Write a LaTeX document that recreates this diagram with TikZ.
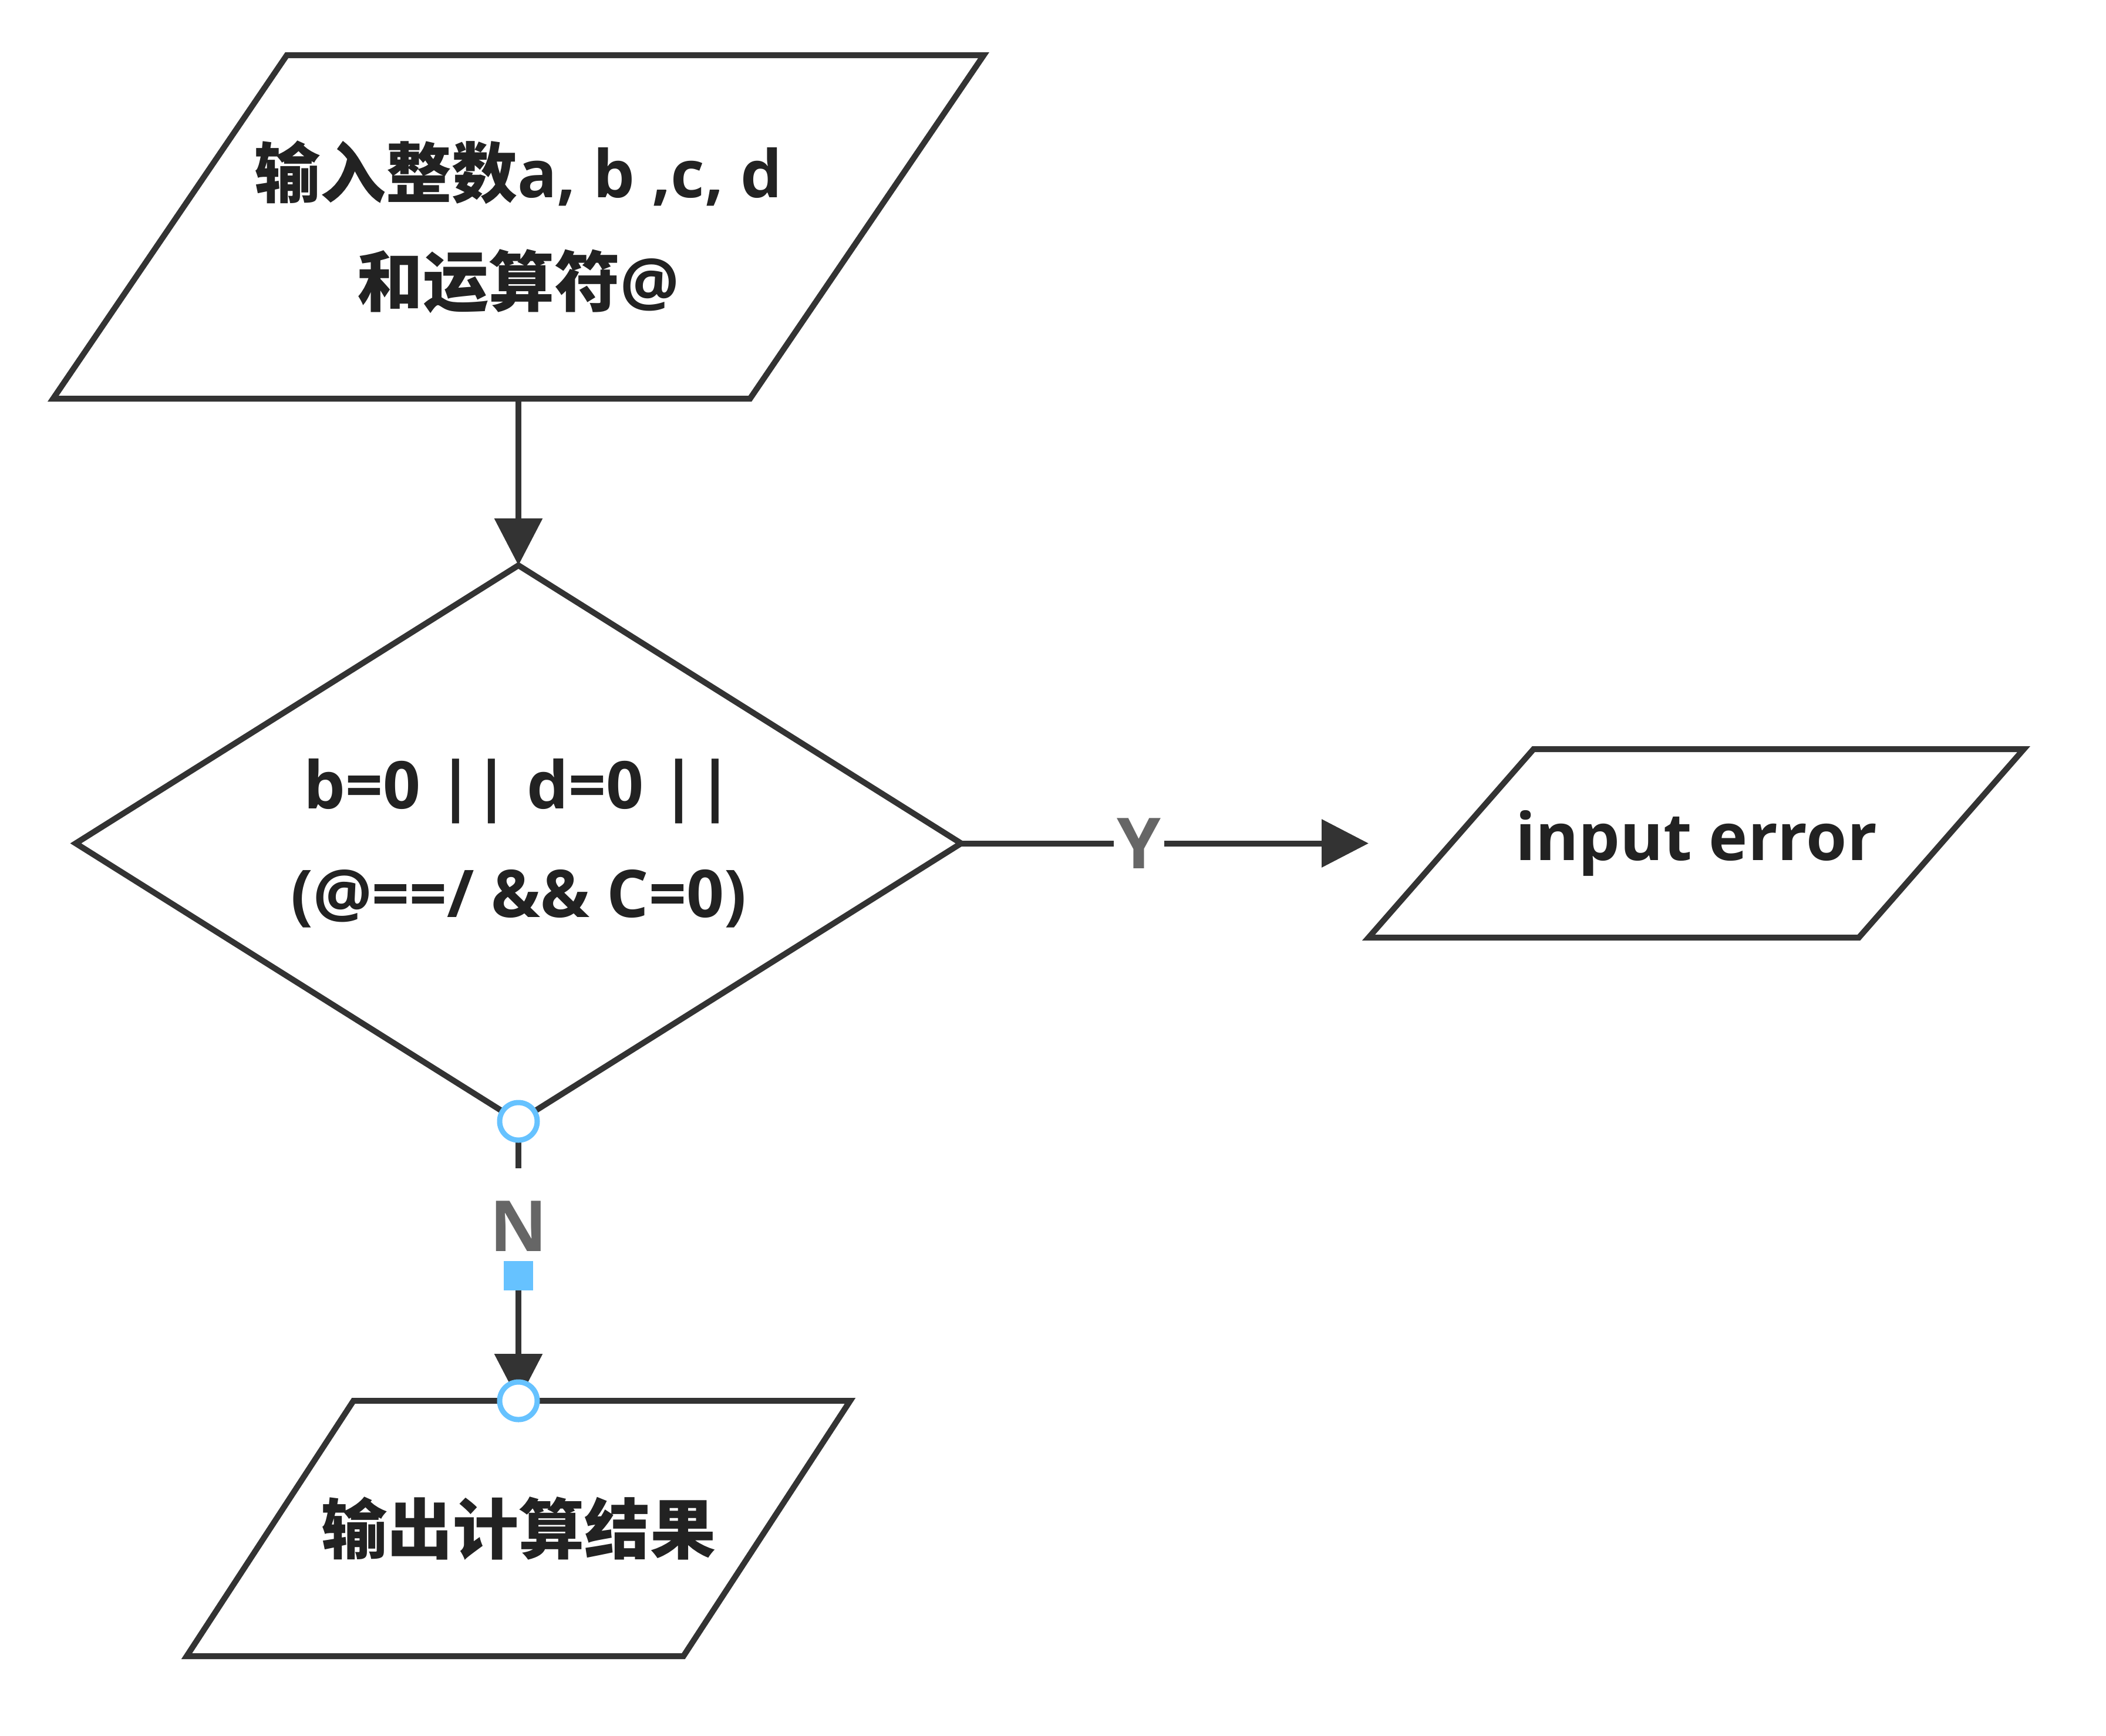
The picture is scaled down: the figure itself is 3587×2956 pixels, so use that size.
\documentclass[tikz,border=0pt]{standalone}
\usepackage{fontspec}
\setmainfont{Open Sans}
\newfontfamily\cjk{Noto Sans CJK SC Bold}
\usetikzlibrary{shapes.geometric,arrows.meta}
\definecolor{lncol}{HTML}{333333}
\definecolor{txcol}{HTML}{222222}
\definecolor{lbcol}{HTML}{666666}
\definecolor{blcol}{HTML}{66C2FF}
\begin{document}
\begin{tikzpicture}[x=1pt,y=-1pt,
  shapeline/.style={draw=lncol, line width=10pt, line join=miter, fill=white},
  txt/.style={text=txcol, font=\fontsize{112}{185}\selectfont\bfseries, align=center, inner sep=0pt, outer sep=0pt},
  conn/.style={draw=lncol, line width=10pt, -{Triangle[length=80pt,width=80pt]}},
  lbl/.style={fill=white, text=lbcol, font=\fontsize{120}{120}\selectfont\bfseries, inner sep=0pt, inner xsep=6pt},
  port/.style={circle, draw=blcol, line width=9pt, fill=white, minimum size=64pt, inner sep=0pt},
  handle/.style={rectangle, fill=blcol, minimum size=50pt, inner sep=0pt}]
\useasboundingbox (0,0) rectangle (3587,2956);

% input box
\node[txt, minimum width=1585pt, minimum height=585pt] (in) at (883,386.5) {};
\draw[shapeline] ([xshift=398pt]in.north west) -- (in.north east) -- ([xshift=-398pt]in.south east) -- (in.south west) -- cycle;
\node[txt] (intext) at (in.center) {{\cjk 输入整数}a, b ,c, d\\{\cjk 和运算符}@};

% decision
\node[txt, diamond, aspect=1.6, draw=lncol, line width=10pt, fill=white, minimum width=1508pt, minimum height=947pt] (dec) at (883,1436.5) {b=0 || d=0 ||\\(@==/ \&\& C=0)};

% error box
\node[txt, minimum width=1116pt, minimum height=321pt] (err) at (2889,1436.5) {};
\draw[shapeline] ([xshift=281pt]err.north west) -- (err.north east) -- ([xshift=-281pt]err.south east) -- (err.south west) -- cycle;
\node[txt] (errtext) at (err.center) {input error};

% output box
\node[txt, minimum width=1130pt, minimum height=435pt] (out) at (883,2603.5) {};
\draw[shapeline] ([xshift=284pt]out.north west) -- (out.north east) -- ([xshift=-284pt]out.south east) -- (out.south west) -- cycle;
\node[txt] (outtext) at (out.center) {\cjk 输出计算结果};

% connectors
\draw[conn] (in.south) -- (dec.north);
\draw[conn] (dec.east) -- (err.west);
\draw[conn] (dec.south) -- (out.north);

% labels
\node[lbl] (ylab) at (1940,1437) {Y};
\node[lbl, anchor=base, text height=141pt, text depth=18pt] (nlab) at (883,2131) {N};
\node[handle] (hnd) at (883,2173) {};
\node[port] (p1) at (dec.south) {};
\node[port] (p2) at (out.north) {};
\end{tikzpicture}
\end{document}
